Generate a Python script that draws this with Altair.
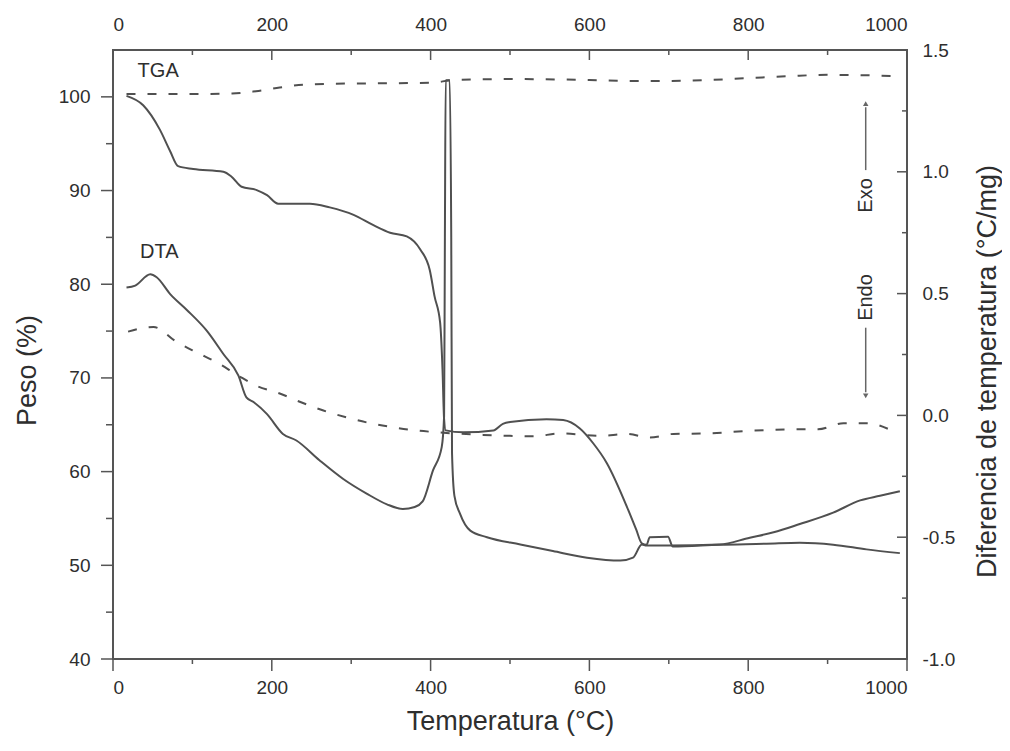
import altair as alt
import pandas as pd

# ---------------- data ----------------
# TGA curve (solid), left axis: Peso (%)
tga_x = [17, 38, 59, 72, 82, 101, 139, 149, 162, 181, 194, 208, 248, 273, 303, 328, 349, 370, 387, 399,
         405, 412, 415, 417, 419, 441, 479, 491, 500, 546, 567, 588, 605, 622, 647, 659, 666, 672, 676, 699,
         705, 764, 823, 865, 907, 949, 991]
tga_y = [100.1, 99.1, 96.5, 94.2, 92.6, 92.3, 92.0, 91.5, 90.4, 90.05, 89.5, 88.6, 88.6, 88.2, 87.4, 86.3, 85.5, 85.1, 83.7, 81.5,
         78.7, 75.9, 70.9, 65.6, 64.4, 64.2, 64.4, 65.1, 65.3, 65.6, 65.5, 64.6, 63.0, 60.9, 56.3, 53.8, 52.35, 52.2, 53.0, 53.05,
         52.0, 52.2, 52.3, 52.4, 52.2, 51.7, 51.3]

# upper dashed curve, left axis
tgab_x = [17, 100, 150, 180, 210, 240, 280, 350, 400, 430, 500, 600, 650, 700, 750, 800, 850, 900, 950, 990]
tgab_y = [100.3, 100.3, 100.35, 100.6, 101.0, 101.3, 101.4, 101.45, 101.5, 101.8, 101.9, 101.8, 101.7, 101.7, 101.8,
          102.0, 102.2, 102.35, 102.3, 102.2]

# DTA curve (solid), right axis: Diferencia de temperatura (°C/mg)
dta_x = [17, 28, 47, 55, 72, 93, 118, 139, 158, 168, 177, 194, 214, 231, 260, 290, 320, 345, 365, 380,
         390, 403, 414, 417, 418, 419, 424, 426, 427, 430, 437, 450, 471, 513, 554, 597, 639, 655, 666, 672,
         700, 764, 802, 832, 865, 907, 941, 966, 991]
dta_y = [0.525, 0.533, 0.579, 0.567, 0.498, 0.433, 0.348, 0.252, 0.163, 0.074, 0.055, 0.005, -0.076, -0.103, -0.184,
         -0.261, -0.322, -0.365, -0.384, -0.376, -0.353, -0.226, -0.130, -0.003, 0.729, 1.376, 1.376, 0.729, -0.157,
         -0.330, -0.403, -0.473, -0.500, -0.530, -0.557, -0.584, -0.596, -0.584, -0.530, -0.534, -0.534, -0.530,
         -0.502, -0.480, -0.446, -0.399, -0.349, -0.330, -0.311]

# lower dashed curve, right axis
dtab_x = [19, 51, 80, 105, 131, 158, 181, 210, 236, 265, 294, 324, 353, 382, 403, 466, 500, 530, 563, 613,
          647, 676, 706, 748, 798, 827, 858, 888, 920, 949, 981]
dtab_y = [0.344, 0.363, 0.302, 0.259, 0.217, 0.163, 0.121, 0.090, 0.055, 0.020, -0.008, -0.032, -0.049, -0.062,
          -0.068, -0.080, -0.084, -0.086, -0.074, -0.084, -0.076, -0.091, -0.076, -0.074, -0.064, -0.060, -0.057,
          -0.057, -0.032, -0.032, -0.062]

# axis ticks
x_major = [0, 200, 400, 600, 800, 1000]
x_minor = [100, 300, 500, 700, 900]
yl_major = [40, 50, 60, 70, 80, 90, 100]
yl_minor = [45, 55, 65, 75, 85, 95]
yr_major = [-1.0, -0.5, 0.0, 0.5, 1.0, 1.5]
yr_minor = [-0.75, -0.25, 0.25, 0.75, 1.25]

# annotations
label_text = ["TGA", "DTA"]
label_x = [31, 34]
label_y = [102.1, 82.8]
dir_text = ["Exo", "Endo"]
dir_x = [948, 948]
dir_y = [0.903, 0.484]
arrow_x = [948, 948]
arrow_y1 = [1.007, 0.360]
arrow_y2 = [1.265, 0.095]
head_y_up = [1.28]
head_y_down = [0.08]

# ---------------- chart ----------------
W, H = 794, 609
FONT = "Liberation Sans"
TXT = "#2e2e2e"
LINE = "#505050"

xs = alt.Scale(domain=[0, 1000], nice=False, zero=False)
yls = alt.Scale(domain=[40, 105], nice=False, zero=False)
yrs = alt.Scale(domain=[-1.0, 1.5], nice=False, zero=False)

def df(x, y):
    return pd.DataFrame({"x": x, "y": y, "i": list(range(len(x)))})

bottom_axis = alt.Axis(orient="bottom", values=x_major, ticks=False, tickSize=0, domain=False, grid=False,
                       labelFont=FONT, labelFontSize=19, labelColor=TXT, labelPadding=19, format="d",
                       title="Temperatura (°C)", titleFont=FONT, titleFontSize=27, titleFontWeight="normal",
                       titleColor=TXT, titleX=W / 2, titleY=62, titleAlign="center", titleBaseline="middle")
top_axis = alt.Axis(orient="top", values=x_major, ticks=False, tickSize=0, domain=False, grid=False,
                    labelFont=FONT, labelFontSize=19, labelColor=TXT, labelPadding=16, format="d", title="")
left_axis = alt.Axis(orient="left", values=yl_major, ticks=False, tickSize=0, domain=False, grid=False,
                     labelFont=FONT, labelFontSize=19, labelColor=TXT, labelPadding=23, format="d",
                     title="Peso (%)", titleFont=FONT, titleFontSize=27, titleFontWeight="normal", titleColor=TXT,
                     titleX=-86, titleY=320, titleAngle=270, titleAlign="center", titleBaseline="middle")
right_axis = alt.Axis(orient="right", values=yr_major, ticks=False, tickSize=0, domain=False, grid=False,
                      labelFont=FONT, labelFontSize=19, labelColor=TXT, labelPadding=15,
                      labelExpr="datum.value < 0 ? '-' + format(abs(datum.value), '.1f') : format(datum.value, '.1f')",
                      title="Diferencia de temperatura (°C/mg)", titleFont=FONT, titleFontSize=27,
                      titleFontWeight="normal", titleColor=TXT,
                      titleX=80, titleY=321, titleAngle=270, titleAlign="center", titleBaseline="middle")

tga_line = alt.Chart(df(tga_x, tga_y)).mark_line(color=LINE, strokeWidth=2, interpolate="monotone").encode(
    x=alt.X("x:Q", scale=xs, axis=bottom_axis),
    y=alt.Y("y:Q", scale=yls, axis=left_axis),
    order="i:Q")
tgab_line = alt.Chart(df(tgab_x, tgab_y)).mark_line(color=LINE, strokeWidth=2, strokeDash=[9, 12],
                                                     interpolate="monotone").encode(
    x=alt.X("x:Q", scale=xs, axis=None),
    y=alt.Y("y:Q", scale=yls, axis=None),
    order="i:Q")
dta_line = alt.Chart(df(dta_x, dta_y)).mark_line(color=LINE, strokeWidth=2, interpolate="monotone").encode(
    x=alt.X("x:Q", scale=xs, axis=top_axis),
    y=alt.Y("y:Q", scale=yrs, axis=right_axis),
    order="i:Q")
dtab_line = alt.Chart(df(dtab_x, dtab_y)).mark_line(color=LINE, strokeWidth=2, strokeDash=[9, 12],
                                                     interpolate="monotone").encode(
    x=alt.X("x:Q", scale=xs, axis=None),
    y=alt.Y("y:Q", scale=yrs, axis=None),
    order="i:Q")

TICK = "#555555"
def xticks(vals, y0, y1):
    return alt.Chart(pd.DataFrame({"v": vals})).mark_rule(color=TICK, strokeWidth=1.5).encode(
        x=alt.X("v:Q", scale=xs, axis=None), y=alt.value(y0), y2=alt.value(y1))

def yticks(vals, scale, x0, x1):
    return alt.Chart(pd.DataFrame({"v": vals})).mark_rule(color=TICK, strokeWidth=1.5).encode(
        y=alt.Y("v:Q", scale=scale, axis=None), x=alt.value(x0), x2=alt.value(x1))

ticks = [
    xticks(x_major, H, H + 12), xticks(x_minor, H, H + 5),
    xticks(x_major, 0, 10), xticks(x_minor, 0, 5),
    yticks(yl_major, yls, -12, 0), yticks(yl_minor, yls, -7, 0),
    yticks(yr_major, yrs, W - 10, W), yticks(yr_minor, yrs, W - 5, W),
]

labels = alt.Chart(pd.DataFrame({"x": label_x, "y": label_y, "t": label_text})).mark_text(
    font=FONT, fontSize=20, color=TXT, align="left", baseline="alphabetic").encode(
    x=alt.X("x:Q", scale=xs, axis=None), y=alt.Y("y:Q", scale=yls, axis=None), text="t:N")

dirs = alt.Chart(pd.DataFrame({"x": dir_x, "y": dir_y, "t": dir_text})).mark_text(
    font=FONT, fontSize=20, color=TXT, align="center", baseline="middle", angle=270).encode(
    x=alt.X("x:Q", scale=xs, axis=None), y=alt.Y("y:Q", scale=yrs, axis=None), text="t:N")

arrows = alt.Chart(pd.DataFrame({"x": arrow_x, "y": arrow_y1, "y2": arrow_y2})).mark_rule(
    color="#666666", strokeWidth=1.5).encode(
    x=alt.X("x:Q", scale=xs, axis=None), y=alt.Y("y:Q", scale=yrs, axis=None), y2="y2:Q")
head_up = alt.Chart(pd.DataFrame({"x": [arrow_x[0]], "y": head_y_up})).mark_point(
    shape="triangle-up", filled=True, color="#666666", size=30, opacity=1).encode(
    x=alt.X("x:Q", scale=xs, axis=None), y=alt.Y("y:Q", scale=yrs, axis=None))
head_down = alt.Chart(pd.DataFrame({"x": [arrow_x[1]], "y": head_y_down})).mark_point(
    shape="triangle-down", filled=True, color="#666666", size=30, opacity=1).encode(
    x=alt.X("x:Q", scale=xs, axis=None), y=alt.Y("y:Q", scale=yrs, axis=None))

chart = alt.layer(
    tga_line, tgab_line, dta_line, dtab_line, *ticks, labels, dirs, arrows, head_up, head_down
).resolve_scale(y="independent").resolve_axis(x="independent", y="independent").properties(
    width=W, height=H,
    autosize=alt.AutoSizeParams(type="none"),
    padding={"left": 105, "top": 42, "right": 95, "bottom": 79},
    background="white",
).configure_view(stroke="#555555", strokeWidth=2)

chart.save("out.html", embed_options={"renderer": "svg", "actions": False})
